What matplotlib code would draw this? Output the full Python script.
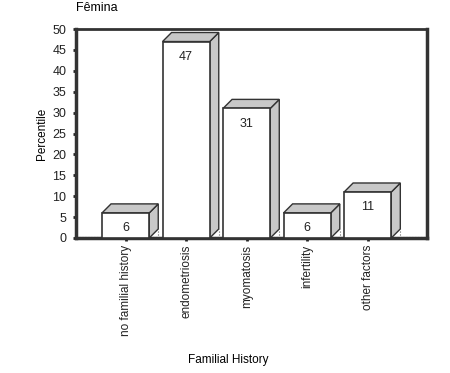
import numpy as np
import matplotlib.pyplot as plt
from matplotlib.patches import Polygon

plt.rcParams['font.family'] = ['Liberation Sans', 'DejaVu Sans']

categories = ['no familial history', 'endometriosis', 'myomatosis', 'infertility', 'other factors']
values = [6, 47, 31, 6, 11]
y_ticks = [0, 5, 10, 15, 20, 25, 30, 35, 40, 45, 50]

fig = plt.figure(figsize=(4.5, 3.73), dpi=100)
# axes box in pixels: x 76..427, y 29..238 (from top)
ax = fig.add_axes([76 / 450, 1 - 238 / 373, 351 / 450, 209 / 373])

width = 0.78
dx = 0.149  # depth offset in data units
dy = 2.16
edge = '#333333'
side = '#c8c8c8'

x = np.arange(len(categories))
for xi, v in zip(x, values):
    x0 = xi - width / 2
    x1 = xi + width / 2
    # dotted back outline
    ax.plot([x1, x1 + dx], [0, 0], color='#666666', lw=0.8, ls=':', zorder=2)
    ax.plot([x1 + dx, x1 + dx], [0, dy], color='#666666', lw=0.8, ls=':', zorder=2)
    # side face
    ax.add_patch(Polygon([(x1, 0), (x1 + dx, dy), (x1 + dx, v + dy), (x1, v)],
                         closed=True, facecolor=side, edgecolor=edge, lw=1.0, zorder=3))
    # top face
    ax.add_patch(Polygon([(x0, v), (x0 + dx, v + dy), (x1 + dx, v + dy), (x1, v)],
                         closed=True, facecolor=side, edgecolor=edge, lw=1.0, zorder=3))
    # front face
    ax.add_patch(Polygon([(x0, 0), (x0, v), (x1, v), (x1, 0)],
                         closed=True, facecolor='white', edgecolor=edge, lw=1.2, zorder=4))
    ax.annotate(str(v), (xi, v), xytext=(0, -11), textcoords='offset points',
                ha='center', va='center', fontsize=9, color='#222222', zorder=5)

# dotted floor
ax.plot([-0.82, 4.98], [0.3, 0.3], color='#777777', lw=0.8, ls=':', zorder=1)

ax.set_xlim(-0.82, 4.98)
ax.set_ylim(0, 50)
ax.set_yticks(y_ticks)
ax.set_xticks(x)
ax.set_xticklabels(categories, rotation=90, fontsize=8.5)
ax.tick_params(axis='y', labelsize=9, length=2, width=2, pad=5, colors='#222222')
ax.tick_params(axis='x', length=2, width=2, pad=3, colors='#222222')

for s in ax.spines.values():
    s.set_color('#333333')
    s.set_linewidth(2.5)
ax.spines['top'].set_linewidth(2.0)

ax.set_ylabel('Percentile', fontsize=8.5, labelpad=3)
fig.text(76 / 450, 1 - 8 / 373, 'Fêmina', fontsize=9, ha='left', va='center')
fig.text(228 / 450, 1 - 360 / 373, 'Familial History', fontsize=8.5, ha='center', va='center')

fig.savefig('out.png', dpi=100)
